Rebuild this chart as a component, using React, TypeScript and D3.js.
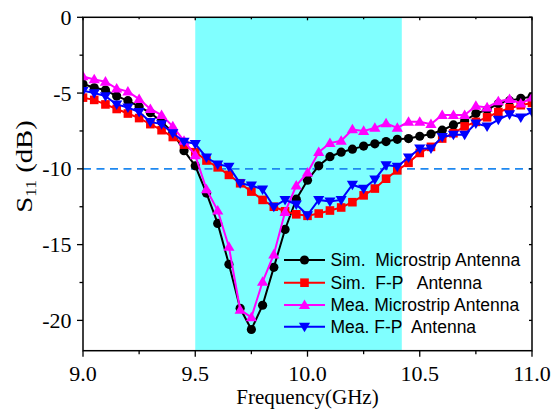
import React from "react";
import * as d3 from "d3";

const freqs: number[] = d3.range(41).map((i) => 9 + i * 0.05);

const simMicrostrip = [
  -4.4, -4.65, -4.8, -5.2, -5.5, -5.9, -6.3, -6.9, -7.6, -8.8, -9.8, -11.6, -13.6, -16.3, -19.2, -20.6, -19.0,
  -16.5, -14.0, -12.0, -10.75, -9.8, -9.2, -8.9, -8.7, -8.5, -8.35, -8.2, -8.05, -8.0, -7.85, -7.7, -7.45, -7.1,
  -6.85, -6.35, -6.1, -5.7, -5.5, -5.35, -5.25,
];
const simFP = [
  -5.3, -5.45, -5.75, -6.05, -6.35, -6.65, -7.05, -7.45, -7.9, -8.4, -8.9, -9.45, -9.9, -10.4, -10.95, -11.5,
  -12.05, -12.5, -12.8, -13.0, -13.1, -12.95, -12.75, -12.55, -12.2, -11.75, -11.3, -10.65, -10.1, -9.6, -8.95,
  -8.55, -8.0, -7.65, -7.2, -6.9, -6.6, -6.25, -6.0, -5.8, -5.65,
];
const meaMicrostrip = [
  -3.9, -4.1, -4.25, -4.7, -4.9, -5.4, -6.05, -6.45, -7.2, -8.15, -9.1, -11.35, -12.75, -15.15, -19.3, -19.8,
  -17.45, -15.65, -12.85, -11.1, -10.25, -8.9, -8.3, -8.15, -7.4, -7.5, -7.3, -7.0, -7.3, -6.9, -6.9, -7.05,
  -6.45, -6.45, -6.45, -5.85, -5.95, -5.55, -5.4, -5.7, -5.3,
];
const meaFP = [
  -4.85, -5.0, -5.2, -5.75, -5.95, -6.25, -6.9, -7.05, -7.65, -8.2, -8.35, -9.25, -9.7, -9.85, -10.95, -11.1,
  -11.35, -12.5, -12.05, -12.35, -13.05, -12.05, -12.15, -12.05, -11.05, -11.3, -10.7, -9.75, -9.85, -9.25,
  -8.65, -8.65, -7.9, -7.75, -7.75, -7.0, -7.2, -6.75, -6.4, -6.6, -6.25,
];

const seriesNames = ["Sim.  Microstrip Antenna", "Sim.  F-P   Antenna", "Mea. Microstrip Antenna", "Mea. F-P  Antenna"];
const seriesColors = ["#000000", "#ff0000", "#ff00ff", "#0000ff"];
const seriesMarkers = ["circle", "square", "triUp", "triDown"];
const seriesValues = [simMicrostrip, simFP, meaMicrostrip, meaFP];

const xMajorTicks = [9.0, 9.5, 10.0, 10.5, 11.0];
const xMinorTicks = [9.25, 9.75, 10.25, 10.75];
const yMajorTicks = [0, -5, -10, -15, -20];
const yMinorTicks = [-2.5, -7.5, -12.5, -17.5];
const bandStart = 9.5;
const bandEnd = 10.42;
const threshold = -10;

const W = 559;
const H = 413;
const left = 83;
const right = 532;
const top = 17.3;
const bottom = 350.7;

const x = d3.scaleLinear().domain([9, 11]).range([left, right]);
const y = d3.scaleLinear().domain([-22, 0]).range([bottom, top]);

function Marker({ type, cx, cy, color }: { type: string; cx: number; cy: number; color: string }) {
  if (type === "circle") return <circle cx={cx} cy={cy} r={4.6} fill={color} />;
  if (type === "square") return <rect x={cx - 4.3} y={cy - 4.3} width={8.6} height={8.6} fill={color} />;
  const s = 5.6;
  const p = d3.path();
  if (type === "triUp") {
    p.moveTo(cx, cy - s);
    p.lineTo(cx + s, cy + s * 0.7);
    p.lineTo(cx - s, cy + s * 0.7);
  } else {
    p.moveTo(cx, cy + s);
    p.lineTo(cx + s, cy - s * 0.7);
    p.lineTo(cx - s, cy - s * 0.7);
  }
  p.closePath();
  return <path d={p.toString()} fill={color} />;
}

export default function App() {
  const line = d3
    .line<number>()
    .x((_, i) => x(freqs[i]))
    .y((d) => y(d));

  const serif = "'Liberation Serif', 'Times New Roman', serif";
  const sans = "'Liberation Sans', Arial, sans-serif";
  const legendY = [260, 282.7, 305, 326.7];

  return (
    <svg width={W} height={H} style={{ position: "absolute", left: 0, top: 0, background: "#fff" }}>
      <defs>
        <clipPath id="plotclip">
          <rect x={left} y={top} width={right - left} height={bottom - top} />
        </clipPath>
      </defs>
      <rect x={0} y={0} width={W} height={H} fill="#fff" />
      <rect x={x(bandStart)} y={top} width={x(bandEnd) - x(bandStart)} height={bottom - top} fill="#80ffff" />
      <line x1={left} x2={right} y1={y(threshold)} y2={y(threshold)} stroke="#1e88f0" strokeWidth={1.8} strokeDasharray="8,5.5" />

      <g clipPath="url(#plotclip)">
        {seriesValues.map((vals, si) => (
          <g key={si}>
            <path d={line(vals) || ""} fill="none" stroke={seriesColors[si]} strokeWidth={2} />
            {vals.map((v, i) => (
              <Marker key={i} type={seriesMarkers[si]} cx={x(freqs[i])} cy={y(v)} color={seriesColors[si]} />
            ))}
          </g>
        ))}
      </g>

      <rect x={left} y={top} width={right - left} height={bottom - top} fill="none" stroke="#000" strokeWidth={1.5} />

      {xMajorTicks.map((t) => (
        <g key={"xM" + t}>
          <line x1={x(t)} x2={x(t)} y1={bottom} y2={bottom + 6} stroke="#000" strokeWidth={1.3} />
          <line x1={x(t)} x2={x(t)} y1={top} y2={top + 3} stroke="#000" strokeWidth={1.3} />
          <text x={x(t)} y={381} textAnchor="middle" fontFamily={serif} fontSize={22} fill="#000">
            {t.toFixed(1)}
          </text>
        </g>
      ))}
      {xMinorTicks.map((t) => (
        <g key={"xm" + t}>
          <line x1={x(t)} x2={x(t)} y1={bottom} y2={bottom + 3.5} stroke="#000" strokeWidth={1.3} />
          <line x1={x(t)} x2={x(t)} y1={top} y2={top + 2} stroke="#000" strokeWidth={1.3} />
        </g>
      ))}
      {yMajorTicks.map((t) => (
        <g key={"yM" + t}>
          <line x1={left - 6} x2={left} y1={y(t)} y2={y(t)} stroke="#000" strokeWidth={1.3} />
          <line x1={right - 3} x2={right} y1={y(t)} y2={y(t)} stroke="#000" strokeWidth={1.3} />
          <text x={71.5} y={y(t) + 7.5} textAnchor="end" fontFamily={serif} fontSize={22} fill="#000">
            {String(t)}
          </text>
        </g>
      ))}
      {yMinorTicks.map((t) => (
        <g key={"ym" + t}>
          <line x1={left - 3.5} x2={left} y1={y(t)} y2={y(t)} stroke="#000" strokeWidth={1.3} />
          <line x1={right - 2} x2={right} y1={y(t)} y2={y(t)} stroke="#000" strokeWidth={1.3} />
        </g>
      ))}

      <text x={(left + right) / 2} y={404} textAnchor="middle" fontFamily={serif} fontSize={21} fill="#000">
        Frequency(GHz)
      </text>
      <text
        transform={`translate(31.5,${166.5}) rotate(-90) scale(1.25,1)`}
        textAnchor="middle"
        fontFamily={serif}
        fontSize={23}
        fill="#000"
      >
        S<tspan fontSize={14} dy={4}>11</tspan>
        <tspan dy={-4}> (dB)</tspan>
      </text>

      {seriesNames.map((name, si) => (
        <g key={"lg" + si}>
          <line x1={284} x2={325} y1={legendY[si]} y2={legendY[si]} stroke={seriesColors[si]} strokeWidth={2} />
          <Marker type={seriesMarkers[si]} cx={304.5} cy={legendY[si]} color={seriesColors[si]} />
          <text x={330.5} y={legendY[si] + 6.2} fontFamily={sans} fontSize={17.5} fill="#000" style={{ whiteSpace: "pre" }}>
            {name}
          </text>
        </g>
      ))}
    </svg>
  );
}
